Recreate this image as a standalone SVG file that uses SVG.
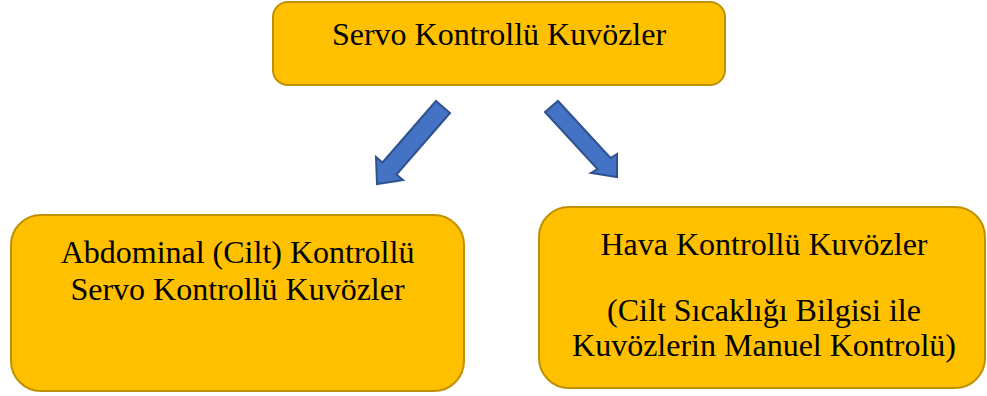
<svg xmlns="http://www.w3.org/2000/svg" width="987" height="396" viewBox="0 0 987 396">
<style>
.box{fill:#FFC000;stroke:#BF9000;stroke-width:2}
.t{font-family:"Liberation Serif","Times New Roman",serif;font-size:32px;fill:#000;text-anchor:middle}
.arr{fill:#4472C4;stroke:#2F528F;stroke-width:2;stroke-linejoin:miter}
</style>
<rect width="987" height="396" fill="#fff"/>
<g id="top">
<rect class="box" x="273" y="2" width="452" height="83" rx="15"/>
<text class="t" x="499" y="45">Servo Kontrollü Kuvözler</text>
</g>
<g id="left">
<rect class="box" x="11" y="215" width="453" height="176" rx="30"/>
<text class="t" x="237.5" y="263">Abdominal (Cilt) Kontrollü</text>
<text class="t" x="237.5" y="300">Servo Kontrollü Kuvözler</text>
</g>
<g id="right">
<rect class="box" x="539" y="207" width="446" height="181" rx="30"/>
<text class="t" x="764" y="255">Hava Kontrollü Kuvözler</text>
<text class="t" x="764" y="321">(Cilt Sıcaklığı Bilgisi ile</text>
<text class="t" x="764" y="356">Kuvözlerin Manuel Kontrolü)</text>
</g>
<g id="connectors">
<polygon class="arr" points="436,101 450,113 396.5,174.5 403,180 377,184 376,157 382.5,162.5"/>
<polygon class="arr" points="545,112 558,101 610.5,158 617,154 617,177 591,173 597.5,169"/>
</g>
</svg>
